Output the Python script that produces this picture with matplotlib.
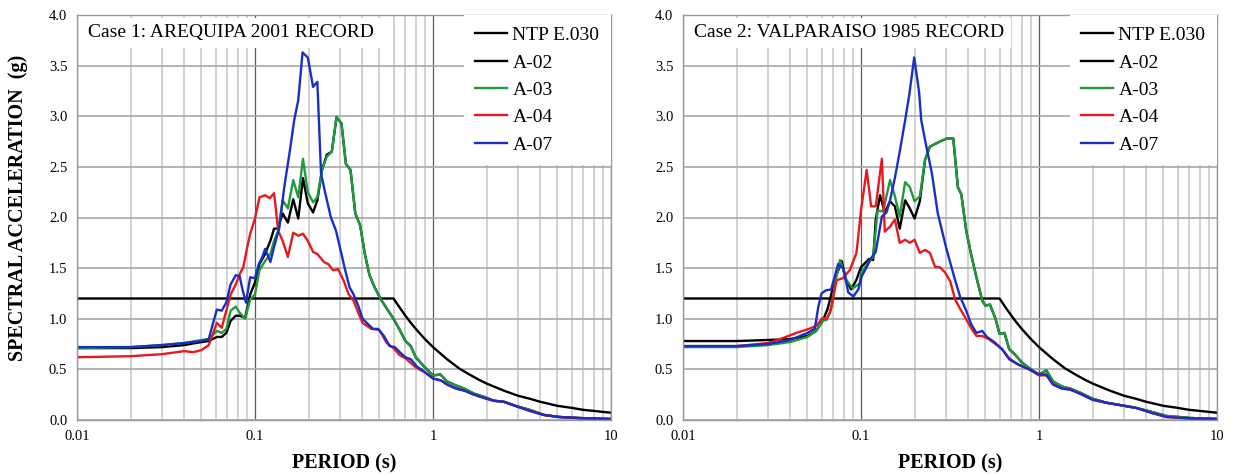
import matplotlib
matplotlib.use("Agg")
import matplotlib.pyplot as plt
from matplotlib.ticker import FixedLocator, LogLocator, NullFormatter

plt.rcParams['font.family'] = ['Liberation Serif', 'DejaVu Serif']

# NTP E.030 design spectrum (period s, Sa g)
ntp_T = [0.01, 0.6, 0.65, 0.7, 0.75, 0.8, 0.9, 1.0, 1.2, 1.4, 1.6, 1.8, 2.0,
         2.5, 3.0, 3.5, 4.0, 5.0, 6.0, 7.0, 8.0, 9.0, 10.0]
ntp_SA = [1.2, 1.2, 1.11, 1.03, 0.96, 0.9, 0.8, 0.72, 0.6, 0.51, 0.45, 0.4, 0.36,
          0.29, 0.24, 0.21, 0.18, 0.14, 0.12, 0.10, 0.09, 0.08, 0.072]

# Case 1: Arequipa 2001 -- (period, Sa) pairs
c1_a02 = [(0.01, 0.71), (0.02, 0.71), (0.03, 0.72), (0.04, 0.74), (0.05, 0.77), (0.055, 0.78),
          (0.061, 0.82), (0.065, 0.82), (0.069, 0.86), (0.073, 0.98), (0.078, 1.03), (0.082, 1.03),
          (0.088, 1.01), (0.094, 1.24), (0.1, 1.36), (0.106, 1.54), (0.114, 1.64), (0.122, 1.77),
          (0.128, 1.89), (0.134, 1.89), (0.143, 2.04), (0.153, 1.95), (0.164, 2.18), (0.175, 1.99),
          (0.186, 2.39), (0.198, 2.14), (0.212, 2.05), (0.224, 2.17), (0.238, 2.47), (0.253, 2.62),
          (0.27, 2.65), (0.287, 2.99), (0.306, 2.93), (0.324, 2.53), (0.344, 2.47), (0.366, 2.04),
          (0.39, 1.92), (0.414, 1.64), (0.44, 1.43), (0.47, 1.31), (0.51, 1.19), (0.55, 1.10),
          (0.6, 1.00), (0.65, 0.89), (0.7, 0.78), (0.75, 0.73), (0.8, 0.62), (0.9, 0.52),
          (1.0, 0.44), (1.1, 0.45), (1.2, 0.38), (1.35, 0.34), (1.5, 0.31), (1.7, 0.26),
          (2.0, 0.22), (2.2, 0.19), (2.5, 0.18), (2.9, 0.14), (3.5, 0.10), (4.2, 0.05),
          (5.1, 0.03), (6.5, 0.02), (8.0, 0.015), (10.0, 0.01)]
c1_a03 = [(0.01, 0.71), (0.02, 0.72), (0.03, 0.74), (0.04, 0.76), (0.05, 0.79), (0.055, 0.80),
          (0.061, 0.88), (0.065, 0.86), (0.069, 0.90), (0.073, 1.08), (0.078, 1.12), (0.082, 1.06),
          (0.088, 1.00), (0.094, 1.19), (0.1, 1.24), (0.106, 1.48), (0.114, 1.57), (0.122, 1.64),
          (0.128, 1.77), (0.135, 1.87), (0.143, 2.17), (0.153, 2.09), (0.164, 2.37), (0.175, 2.20),
          (0.186, 2.58), (0.198, 2.25), (0.212, 2.15), (0.224, 2.20), (0.238, 2.47), (0.253, 2.60),
          (0.27, 2.65), (0.287, 2.99), (0.306, 2.93), (0.324, 2.53), (0.344, 2.47), (0.366, 2.04),
          (0.39, 1.92), (0.414, 1.64), (0.44, 1.43), (0.47, 1.31), (0.51, 1.19), (0.55, 1.10),
          (0.6, 1.00), (0.65, 0.89), (0.7, 0.78), (0.75, 0.73), (0.8, 0.62), (0.9, 0.52),
          (1.0, 0.44), (1.1, 0.45), (1.2, 0.38), (1.35, 0.34), (1.5, 0.31), (1.7, 0.26),
          (2.0, 0.22), (2.2, 0.19), (2.5, 0.18), (2.9, 0.14), (3.5, 0.10), (4.2, 0.05),
          (5.1, 0.03), (6.5, 0.02), (8.0, 0.015), (10.0, 0.01)]
c1_a04 = [(0.01, 0.62), (0.02, 0.63), (0.03, 0.65), (0.04, 0.68), (0.045, 0.67), (0.05, 0.69),
          (0.055, 0.74), (0.058, 0.85), (0.061, 0.96), (0.065, 0.91), (0.069, 1.08), (0.073, 1.24),
          (0.078, 1.34), (0.082, 1.44), (0.086, 1.51), (0.09, 1.69), (0.094, 1.84), (0.1, 1.99),
          (0.106, 2.20), (0.114, 2.22), (0.121, 2.19), (0.128, 2.24), (0.135, 1.87), (0.143, 1.77),
          (0.153, 1.61), (0.164, 1.85), (0.175, 1.82), (0.186, 1.84), (0.198, 1.77), (0.212, 1.66),
          (0.224, 1.64), (0.244, 1.56), (0.258, 1.54), (0.274, 1.48), (0.293, 1.49), (0.314, 1.38),
          (0.336, 1.24), (0.358, 1.18), (0.38, 1.06), (0.402, 0.96), (0.45, 0.90), (0.5, 0.89),
          (0.55, 0.76), (0.6, 0.71), (0.65, 0.64), (0.7, 0.61), (0.8, 0.52), (0.9, 0.47),
          (1.0, 0.41), (1.11, 0.39), (1.2, 0.35), (1.35, 0.31), (1.5, 0.29), (1.7, 0.25),
          (2.0, 0.21), (2.2, 0.19), (2.5, 0.18), (2.9, 0.14), (3.5, 0.09), (4.2, 0.05),
          (5.1, 0.03), (6.5, 0.02), (8.0, 0.015), (10.0, 0.01)]
c1_a07 = [(0.01, 0.72), (0.02, 0.72), (0.03, 0.74), (0.04, 0.76), (0.05, 0.78), (0.055, 0.80),
          (0.058, 0.95), (0.061, 1.09), (0.065, 1.08), (0.069, 1.16), (0.073, 1.34), (0.078, 1.43),
          (0.082, 1.42), (0.085, 1.29), (0.089, 1.16), (0.094, 1.41), (0.1, 1.40), (0.105, 1.54),
          (0.11, 1.61), (0.114, 1.69), (0.119, 1.61), (0.122, 1.56), (0.128, 1.71), (0.137, 1.90),
          (0.146, 2.30), (0.157, 2.66), (0.166, 2.96), (0.175, 3.16), (0.185, 3.63), (0.198, 3.58),
          (0.212, 3.29), (0.224, 3.34), (0.235, 2.43), (0.249, 2.23), (0.267, 2.00), (0.285, 1.87),
          (0.306, 1.64), (0.32, 1.49), (0.34, 1.31), (0.358, 1.24), (0.38, 1.13), (0.402, 1.00),
          (0.43, 0.95), (0.46, 0.90), (0.49, 0.90), (0.53, 0.83), (0.57, 0.73), (0.61, 0.72),
          (0.66, 0.66), (0.70, 0.62), (0.75, 0.60), (0.81, 0.53), (0.89, 0.48), (1.0, 0.41),
          (1.11, 0.39), (1.2, 0.35), (1.35, 0.31), (1.5, 0.29), (1.7, 0.25), (2.0, 0.21),
          (2.2, 0.19), (2.5, 0.18), (2.9, 0.14), (3.5, 0.09), (4.2, 0.05), (5.1, 0.03),
          (6.5, 0.02), (8.0, 0.015), (10.0, 0.01)]

# Case 2: Valparaiso 1985
c2_a02 = [(0.01, 0.78), (0.02, 0.78), (0.03, 0.79), (0.04, 0.80), (0.05, 0.83), (0.056, 0.88),
          (0.061, 0.98), (0.065, 1.10), (0.068, 1.24), (0.072, 1.41), (0.078, 1.57), (0.082, 1.39),
          (0.088, 1.29), (0.094, 1.38), (0.1, 1.51), (0.111, 1.59), (0.117, 1.58), (0.121, 1.98),
          (0.128, 2.22), (0.136, 2.05), (0.1456, 2.16), (0.155, 2.11), (0.165, 1.89), (0.177, 2.17),
          (0.188, 2.09), (0.2, 1.99), (0.214, 2.16), (0.229, 2.57), (0.244, 2.70), (0.277, 2.75),
          (0.303, 2.78), (0.33, 2.78), (0.35, 2.30), (0.366, 2.23), (0.39, 1.87), (0.415, 1.64),
          (0.445, 1.41), (0.48, 1.18), (0.50, 1.13), (0.53, 1.14), (0.57, 1.00), (0.6, 0.85),
          (0.64, 0.86), (0.68, 0.70), (0.73, 0.65), (0.8, 0.57), (0.9, 0.50), (1.0, 0.45),
          (1.1, 0.49), (1.2, 0.38), (1.35, 0.33), (1.5, 0.31), (1.7, 0.27), (2.0, 0.21),
          (2.4, 0.17), (2.8, 0.15), (3.5, 0.12), (4.3, 0.08), (5.2, 0.04), (7.1, 0.02), (10.0, 0.01)]
c2_a03 = [(0.01, 0.72), (0.02, 0.72), (0.03, 0.74), (0.04, 0.77), (0.05, 0.82), (0.056, 0.88),
          (0.061, 0.98), (0.0642, 0.99), (0.0687, 1.12), (0.072, 1.38), (0.0762, 1.58), (0.083, 1.38),
          (0.09, 1.30), (0.0983, 1.35), (0.1, 1.45), (0.111, 1.57), (0.117, 1.61), (0.124, 2.07),
          (0.133, 2.06), (0.1456, 2.37), (0.155, 2.21), (0.165, 2.01), (0.177, 2.35), (0.188, 2.30),
          (0.2, 2.16), (0.214, 2.21), (0.229, 2.57), (0.244, 2.70), (0.277, 2.75), (0.303, 2.78),
          (0.33, 2.78), (0.35, 2.30), (0.366, 2.23), (0.39, 1.87), (0.415, 1.64), (0.445, 1.41),
          (0.48, 1.18), (0.50, 1.13), (0.53, 1.14), (0.57, 1.00), (0.6, 0.85), (0.64, 0.86),
          (0.68, 0.70), (0.73, 0.65), (0.8, 0.57), (0.9, 0.50), (1.0, 0.45), (1.1, 0.49),
          (1.2, 0.38), (1.35, 0.33), (1.5, 0.31), (1.7, 0.27), (2.0, 0.21), (2.4, 0.17),
          (2.8, 0.15), (3.5, 0.12), (4.3, 0.08), (5.2, 0.04), (7.1, 0.02), (10.0, 0.01)]
c2_a04 = [(0.01, 0.73), (0.02, 0.73), (0.03, 0.76), (0.0365, 0.81), (0.0433, 0.86), (0.051, 0.90),
          (0.056, 0.93), (0.061, 1.01), (0.064, 1.00), (0.067, 1.06), (0.0729, 1.38), (0.079, 1.40),
          (0.0865, 1.48), (0.0943, 1.65), (0.1, 2.07), (0.1076, 2.47), (0.114, 2.11), (0.121, 2.11),
          (0.131, 2.58), (0.136, 1.86), (0.1456, 1.91), (0.155, 1.98), (0.165, 1.75), (0.177, 1.78),
          (0.188, 1.75), (0.2, 1.78), (0.214, 1.65), (0.229, 1.68), (0.244, 1.65), (0.261, 1.51),
          (0.277, 1.51), (0.296, 1.46), (0.317, 1.37), (0.338, 1.19), (0.36, 1.10), (0.38, 1.03),
          (0.415, 0.91), (0.445, 0.83), (0.48, 0.83), (0.52, 0.80), (0.56, 0.76), (0.62, 0.70),
          (0.68, 0.61), (0.76, 0.55), (0.88, 0.50), (1.0, 0.44), (1.1, 0.44), (1.2, 0.35),
          (1.35, 0.31), (1.5, 0.30), (1.7, 0.26), (2.0, 0.20), (2.4, 0.17), (2.8, 0.15),
          (3.5, 0.12), (4.3, 0.07), (5.2, 0.03), (7.1, 0.015), (10.0, 0.01)]
c2_a07 = [(0.01, 0.73), (0.02, 0.73), (0.03, 0.75), (0.04, 0.79), (0.05, 0.86), (0.055, 0.90),
          (0.0576, 1.12), (0.06, 1.25), (0.0634, 1.28), (0.068, 1.29), (0.0744, 1.54), (0.0795, 1.50),
          (0.0848, 1.26), (0.0906, 1.22), (0.0966, 1.29), (0.101, 1.42), (0.1076, 1.51), (0.114, 1.60),
          (0.121, 1.66), (0.131, 2.01), (0.139, 2.05), (0.1456, 2.17), (0.155, 2.39), (0.165, 2.65),
          (0.177, 2.96), (0.187, 3.22), (0.199, 3.58), (0.212, 3.24), (0.218, 2.96), (0.233, 2.70),
          (0.25, 2.44), (0.27, 2.04), (0.303, 1.68), (0.338, 1.38), (0.36, 1.22), (0.39, 1.08),
          (0.415, 0.95), (0.445, 0.86), (0.48, 0.88), (0.51, 0.82), (0.56, 0.77), (0.62, 0.70),
          (0.68, 0.60), (0.76, 0.55), (0.88, 0.50), (1.0, 0.45), (1.1, 0.45), (1.2, 0.35),
          (1.35, 0.31), (1.5, 0.30), (1.7, 0.26), (2.0, 0.20), (2.4, 0.17), (2.8, 0.15),
          (3.5, 0.12), (4.3, 0.07), (5.2, 0.03), (7.1, 0.015), (10.0, 0.01)]

labels = ["NTP E.030", "A-02", "A-03", "A-04", "A-07"]
colors = ["black", "black", "#1f9a3c", "#e8191e", "#1b2ec4"]
titles = ["Case 1: AREQUIPA 2001 RECORD", "Case 2: VALPARAISO 1985 RECORD"]
cases = [[c1_a02, c1_a03, c1_a04, c1_a07], [c2_a02, c2_a03, c2_a04, c2_a07]]

W, H = 1235, 476
fig = plt.figure(figsize=(W / 100, H / 100), dpi=100)
ax_lefts = [77, 683]
axes = [fig.add_axes([x0 / W, 1 - 420 / H, 534 / W, 405 / H]) for x0 in ax_lefts]

for ax, title, records in zip(axes, titles, cases):
    ax.plot(ntp_T, ntp_SA, color=colors[0], lw=1.7, label=labels[0])
    for rec, lab, col in zip(records, labels[1:], colors[1:]):
        T, SA = zip(*rec)
        ax.plot(T, SA, color=col, lw=1.7, label=lab)

    ax.set_xscale('log')
    ax.set_xlim(0.01, 10)
    ax.set_ylim(0, 4.0)
    ax.xaxis.set_major_locator(FixedLocator([0.01, 0.1, 1, 10]))
    ax.set_xticklabels(["0.01", "0.1", "1", "10"])
    ax.xaxis.set_minor_locator(LogLocator(base=10, subs=range(2, 10)))
    ax.xaxis.set_minor_formatter(NullFormatter())
    ax.set_yticks([i * 0.5 for i in range(9)])
    ax.set_yticklabels([f"{i * 0.5:.1f}" for i in range(9)])
    ax.tick_params(which='both', length=0, labelsize=10.5, pad=7)

    ax.grid(which='minor', axis='x', color='#d2d2d2', lw=1.4)
    ax.grid(which='major', axis='x', color='#5a5a5a', lw=0.9)
    ax.grid(which='major', axis='y', color='#a8a8a8', lw=1.2)
    ax.set_axisbelow(True)
    for sp in ax.spines.values():
        sp.set_color('#9a9a9a')
        sp.set_linewidth(1.0)

    ax.text(0.02, 0.956, title, transform=ax.transAxes, fontsize=14,
            ha='left', va='center', zorder=6,
            bbox=dict(boxstyle='square,pad=0.35', fc='white', ec='none'))

    leg = ax.legend(loc='upper right', bbox_to_anchor=(1.0, 1.0), borderaxespad=0.0,
                    fontsize=14, frameon=True, fancybox=False, framealpha=1.0,
                    edgecolor='none', handlelength=1.6, handletextpad=0.3,
                    labelspacing=0.5, borderpad=0.6)
    leg.set_zorder(6)

    fig.text((ax.get_position().x0 + ax.get_position().x1) / 2, 1 - 463 / H, "PERIOD (s)",
             ha='center', va='center', fontsize=14.5, fontweight='bold')

fig.text(18 / W, 1 - 208 / H, "SPECTRAL ACCELERATION  (g)", rotation=90,
         ha='center', va='center', fontsize=14.5, fontweight='bold')

fig.savefig("out.png", dpi=100)
